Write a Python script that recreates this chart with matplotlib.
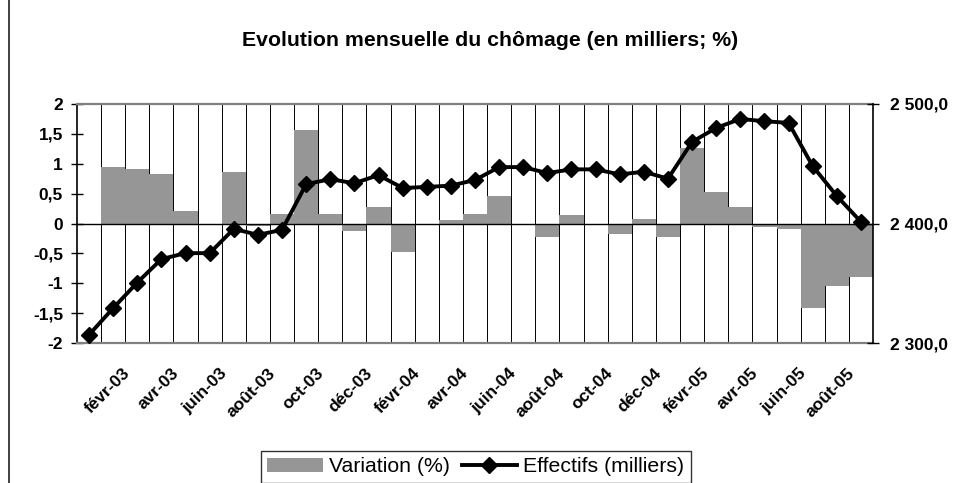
import matplotlib
matplotlib.use('Agg')
import matplotlib.pyplot as plt
import matplotlib.transforms as mtransforms
from matplotlib.patches import Rectangle
import numpy as np

plt.rcParams['font.family'] = ['Liberation Sans', 'DejaVu Sans']

# ---------------- data ----------------
month_names = ['janv', 'févr', 'mars', 'avr', 'mai', 'juin',
               'juil', 'août', 'sept', 'oct', 'nov', 'déc']
years = ['03', '04', '05']
categories = [f"{m}-{y}" for y in years for m in month_names][:33]

variation = [0.0, 0.95, 0.915, 0.83, 0.21, 0.0, 0.865, -0.05, 0.16, 1.57,
             0.16, -0.13, 0.28, -0.47, 0.0, 0.06, 0.16, 0.46, 0.0, -0.23,
             0.14, 0.0, -0.17, 0.08, -0.22, 1.27, 0.52, 0.28, -0.055, -0.09,
             -1.41, -1.04, -0.89]

effectifs = [2306.9, 2329.2, 2350.6, 2370.2, 2375.2, 2375.2, 2395.5, 2390.5,
             2394.7, 2432.9, 2437.1, 2433.7, 2440.5, 2429.7, 2430.6, 2431.7,
             2436.4, 2447.2, 2447.2, 2442.2, 2445.3, 2445.3, 2441.1, 2443.3,
             2437.5, 2468.3, 2480.0, 2487.5, 2485.6, 2484.2, 2448.0, 2423.0,
             2401.4]

left_ticks = [-2, -1.5, -1, -0.5, 0, 0.5, 1, 1.5, 2]
right_ticks = [2300, 2400, 2500]

title = "Evolution mensuelle du chômage (en milliers; %)"
label_var = "Variation (%)"
label_eff = "Effectifs (milliers)"

# ---------------- figure ----------------
W, H = 968, 483
fig = plt.figure(figsize=(W / 100, H / 100), dpi=100)

# chart border
fig.patches.append(Rectangle((9 / W, -0.2), 1.2, 1.2 + (1 - 12 / H),
                             transform=fig.transFigure, fill=False,
                             edgecolor='#333333', linewidth=1.3))

ax = fig.add_axes([77 / W, 1 - 343 / H, (873 - 77) / W, (343 - 104) / H])
x = np.arange(len(categories))

ax.bar(x, variation, width=1.0, color='#969696', linewidth=0, zorder=2)
ax.set_xlim(-0.5, len(categories) - 0.5)
ax.set_ylim(-2, 2)
for b in np.arange(0.5, len(categories) - 1, 1.0):
    ax.axvline(b, color='black', linewidth=0.7, zorder=1)
ax.axhline(0, color='black', linewidth=1.0, zorder=3)

for s in ['top', 'bottom']:
    ax.spines[s].set_color('#808080')
    ax.spines[s].set_linewidth(1.6)
ax.spines['left'].set_color('black')
ax.spines['left'].set_linewidth(1.2)
ax.spines['right'].set_visible(False)

ax.set_yticks(left_ticks)
ax.set_yticklabels([f"{v:g}".replace('.', ',') for v in left_ticks],
                   fontsize=12.5, fontweight='bold')
ax.tick_params(axis='y', direction='inout', length=8, width=1, pad=6)

ax.set_xticks(x[1::2])
ax.set_xticklabels(categories[1::2], rotation=45, fontsize=12.5,
                   fontweight='bold')
ax.tick_params(axis='x', length=0, pad=0)
offset = mtransforms.ScaledTranslation(15 / 100, -28 / 100, fig.dpi_scale_trans)
for lbl in ax.get_xticklabels():
    lbl.set_ha('right')
    lbl.set_va('center')
    lbl.set_rotation_mode('anchor')
    lbl.set_transform(lbl.get_transform() + offset)

ax2 = ax.twinx()
ax2.set_ylim(2300, 2500)
ax2.plot(x, effectifs, color='black', linewidth=2.8, marker='D',
         markersize=8, zorder=5)
for s in ['top', 'bottom', 'left']:
    ax2.spines[s].set_visible(False)
ax2.spines['right'].set_color('black')
ax2.spines['right'].set_linewidth(1.2)
ax2.set_yticks(right_ticks)
ax2.set_yticklabels([f"{v:,.1f}".replace(',', ' ').replace('.', ',')
                     for v in right_ticks], fontsize=12.5, fontweight='bold')
ax2.tick_params(axis='y', direction='inout', length=8, width=1, pad=8)

fig.text(490 / W, 1 - 40 / H, title, ha='center', va='center',
         fontsize=15.3, fontweight='bold')

bar_handle = Rectangle((0, 0), 1, 1, facecolor='#969696', edgecolor='none')
line_handle = plt.Line2D([], [], color='black', linewidth=2.8, marker='D',
                         markersize=8)
leg = fig.legend([bar_handle, line_handle], [label_var, label_eff],
                 loc='center', bbox_to_anchor=(476 / W, 1 - 467 / H), ncol=2,
                 fontsize=15.3, frameon=True, fancybox=False, handlelength=2.6,
                 handletextpad=0.3, columnspacing=0.55, borderpad=0.3,
                 handleheight=0.6, borderaxespad=0)
leg.get_frame().set_edgecolor('black')
leg.get_frame().set_linewidth(1.0)

fig.savefig('out.png', dpi=100)
